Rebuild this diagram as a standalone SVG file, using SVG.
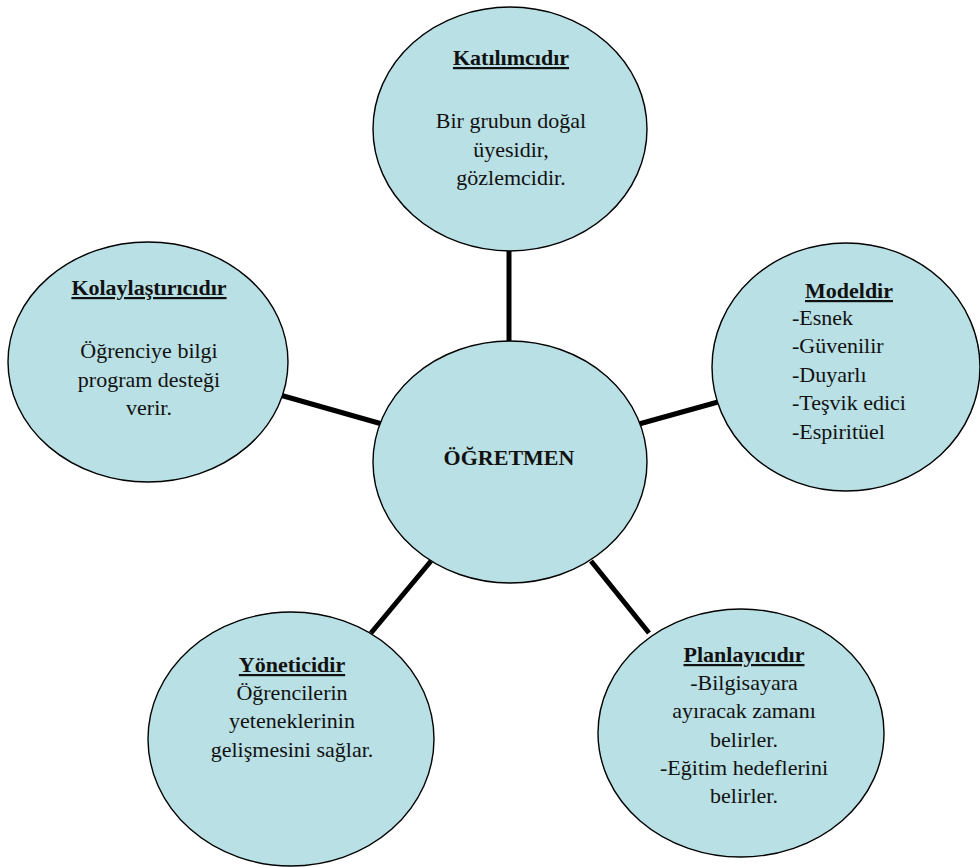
<svg xmlns="http://www.w3.org/2000/svg" width="980" height="867" viewBox="0 0 980 867">
<style>
.node{fill:#b9e0e4;stroke:#000;stroke-width:1.4}
.conn{stroke:#000;stroke-width:5;stroke-linecap:butt}
.t text{font-size:22px;fill:#111}
.c{text-anchor:middle}
.h{font-weight:bold;text-decoration:underline}
.b{font-weight:bold}
</style>
<rect width="980" height="867" fill="#fff"/>
<g id="connectors">
<line class="conn" x1="509" y1="250" x2="509" y2="342"/>
<line class="conn" x1="280" y1="395" x2="382" y2="424"/>
<line class="conn" x1="639" y1="424" x2="718" y2="402"/>
<line class="conn" x1="431" y1="561" x2="371" y2="633"/>
<line class="conn" x1="591" y1="561" x2="649" y2="633"/>
</g>
<g class="t" font-family="Liberation Serif, DejaVu Serif, serif">
<g id="katilimcidir">
<ellipse class="node" cx="510" cy="129" rx="137" ry="122"/>
<text class="c h" x="511" y="65">Katılımcıdır</text>
<text class="c" x="511" y="128">Bir grubun doğal</text>
<text class="c" x="511" y="157">üyesidir,</text>
<text class="c" x="511" y="185">gözlemcidir.</text>
</g>
<g id="kolaylastiricidir">
<ellipse class="node" cx="148" cy="362" rx="140" ry="120"/>
<text class="c h" x="149" y="295">Kolaylaştırıcıdır</text>
<text class="c" x="149" y="358">Öğrenciye bilgi</text>
<text class="c" x="149" y="387">program desteği</text>
<text class="c" x="149" y="415">verir.</text>
</g>
<g id="modeldir">
<ellipse class="node" cx="846" cy="367" rx="134" ry="124"/>
<text class="c h" x="849" y="298">Modeldir</text>
<text x="792" y="325">-Esnek</text>
<text x="792" y="353">-Güvenilir</text>
<text x="792" y="382">-Duyarlı</text>
<text x="792" y="410">-Teşvik edici</text>
<text x="792" y="439">-Espiritüel</text>
</g>
<g id="ogretmen">
<ellipse class="node" cx="510" cy="462" rx="137" ry="121"/>
<text class="c b" x="509" y="465">ÖĞRETMEN</text>
</g>
<g id="yoneticidir">
<ellipse class="node" cx="291" cy="739" rx="143" ry="127"/>
<text class="c h" x="292" y="672">Yöneticidir</text>
<text class="c" x="292" y="700">Öğrencilerin</text>
<text class="c" x="292" y="728">yeteneklerinin</text>
<text class="c" x="292" y="757">gelişmesini sağlar.</text>
</g>
<g id="planlayicidir">
<ellipse class="node" cx="741" cy="733" rx="143" ry="124"/>
<text class="c h" x="744" y="662">Planlayıcıdır</text>
<text class="c" x="744" y="690">-Bilgisayara</text>
<text class="c" x="744" y="718">ayıracak zamanı</text>
<text class="c" x="744" y="747">belirler.</text>
<text class="c" x="744" y="775">-Eğitim hedeflerini</text>
<text class="c" x="744" y="803">belirler.</text>
</g>
</g>
</svg>
